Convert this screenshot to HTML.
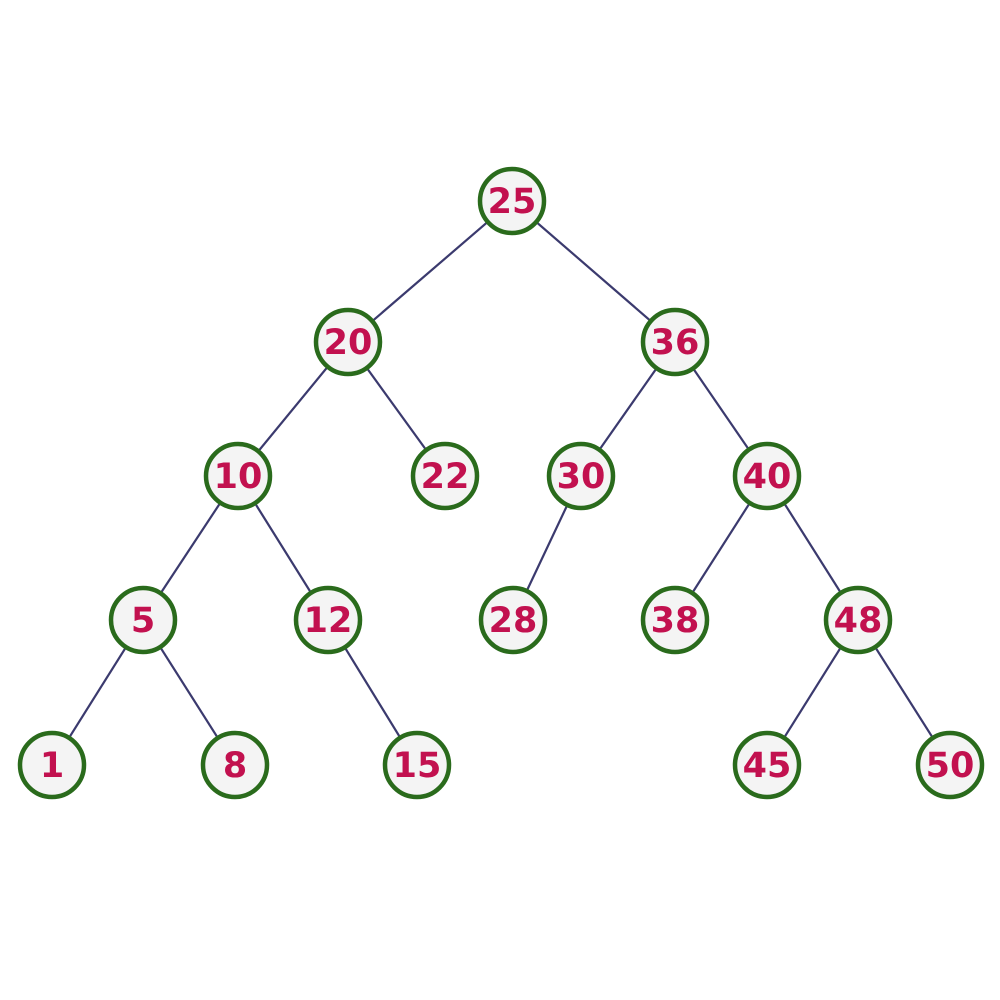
<!DOCTYPE html>
<html><head><meta charset="utf-8"><style>
html,body{margin:0;padding:0;background:#fff}
svg{display:block}
text{font-family:"DejaVu Sans","Liberation Sans",sans-serif;font-weight:bold;font-size:35px;fill:#c2114f}
</style></head><body>
<svg id="chart" width="1000" height="1000" viewBox="0 0 1000 1000"></svg>
<script>
const nodeValues=[25,20,36,10,22,30,40,5,12,28,38,48,1,8,15,45,50];
const parentValues=[null,25,25,20,20,36,36,10,10,30,40,40,5,5,12,48,48];
const nodeX=[512,348,675,238,445,581,767,143,328,513,675,858,52,235,417,767,950];
const nodeY=[201,342,342,476,476,476,476,620,620,620,620,620,765,765,765,765,765];
const svg=document.getElementById('chart');
const NS='http://www.w3.org/2000/svg';
const pos={};
nodeValues.forEach((v,i)=>{pos[v]=[nodeX[i],nodeY[i]];});
const edges=document.createElementNS(NS,'g');


svg.appendChild(edges);
nodeValues.forEach((v,i)=>{
  const p=parentValues[i]; if(p===null) return;
  const l=document.createElementNS(NS,'line');
  
  
  l.setAttribute('x1',pos[p][0]);l.setAttribute('y1',pos[p][1]);
  l.setAttribute('x2',pos[v][0]);l.setAttribute('y2',pos[v][1]);
  l.setAttribute('stroke','#3b3a6e');l.setAttribute('stroke-width','2.2');
  edges.appendChild(l);
});
nodeValues.forEach((v,i)=>{
  const g=document.createElementNS(NS,'g');
  
  
  const c=document.createElementNS(NS,'circle');
  
  
  c.setAttribute('cx',pos[v][0]);c.setAttribute('cy',pos[v][1]);c.setAttribute('r','32');
  c.setAttribute('fill','#f4f4f4');c.setAttribute('stroke','#2a6b1c');c.setAttribute('stroke-width','4.5');
  g.appendChild(c);
  const t=document.createElementNS(NS,'text');
  
  
  t.setAttribute('x',pos[v][0]);t.setAttribute('y',pos[v][1]+12);
  t.setAttribute('text-anchor','middle');
  t.textContent=v;
  g.appendChild(t);
  svg.appendChild(g);
});
</script>
</body></html>
